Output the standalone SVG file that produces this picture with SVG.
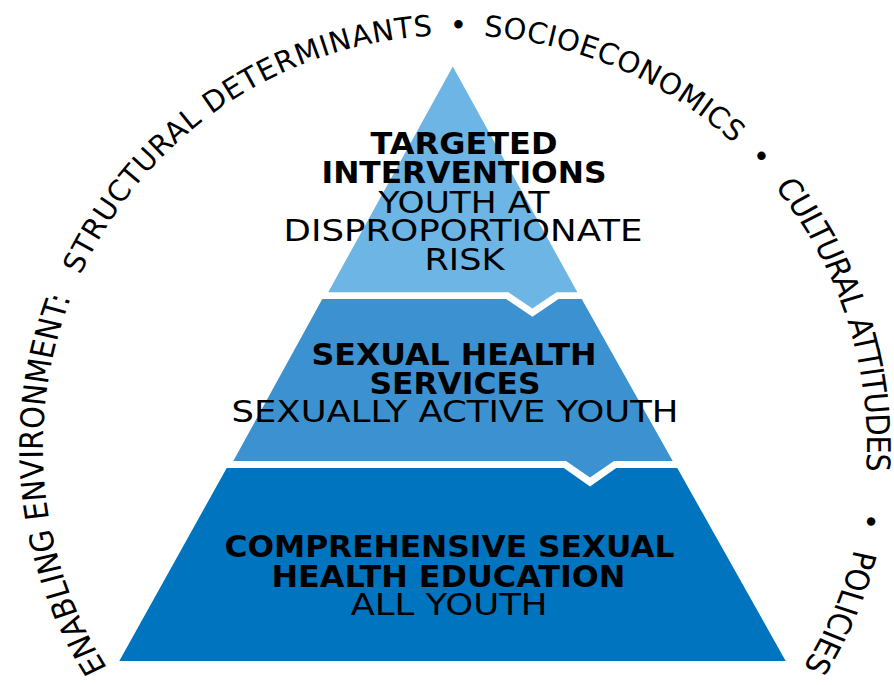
<svg xmlns="http://www.w3.org/2000/svg" width="894" height="685" viewBox="0 0 894 685">
<style>
.b{font-family:"DejaVu Sans",sans-serif;font-weight:bold;font-size:30px;fill:#000}
.r{font-family:"DejaVu Sans",sans-serif;font-size:30px;fill:#000}
.ring text{font-family:"DejaVu Sans",sans-serif;font-size:29px;fill:#000;text-anchor:middle}
.ring text.s{text-anchor:start}
.t1{fill:#6cb5e4}
.t2{fill:#3c92d0}
.t3{fill:#0074be}
</style>
<defs>
<path id="ring" d="M455,859 A412,412 0 1 1 455,35 A412,412 0 1 1 455,859" fill="none"/>
<path id="arcL" d="M-310.3,221.4 A367.9,412 0 0 1 -291.9,-250.8" fill="none"/>
<path id="arcR" d="M285.1,-260.4 A367.9,412 0 0 1 343.9,146.3" fill="none"/>
<path id="arcP" d="M356.3,102.5 A367.9,412 0 0 1 214.2,335.0" fill="none"/>
</defs>
<rect width="894" height="685" fill="#fff"/>
<g id="tier-targeted">
<polygon class="t1" points="452.8,66.5 577.4,292.3 556.5,292.3 532.4,308.6 508.3,292.3 328.2,292.3"/>
<text class="b" x="370.5" y="153.5" textLength="187" lengthAdjust="spacingAndGlyphs">TARGETED</text>
<text class="b" x="321.5" y="183" textLength="285" lengthAdjust="spacingAndGlyphs">INTERVENTIONS</text>
<text class="r" x="378.5" y="212.5" textLength="171" lengthAdjust="spacingAndGlyphs">YOUTH AT</text>
<text class="r" x="283.5" y="241" textLength="359" lengthAdjust="spacingAndGlyphs">DISPROPORTIONATE</text>
<text class="r" x="424.5" y="269.5" textLength="80" lengthAdjust="spacingAndGlyphs">RISK</text>
</g>
<g id="tier-services">
<polygon class="t2" points="322.3,299.1 506.2,299.1 532.4,316.8 558.6,299.1 581.7,299.1 672.7,461 614,461 590,477.5 566,461 233.3,461"/>
<text class="b" x="311.5" y="365" textLength="285" lengthAdjust="spacingAndGlyphs">SEXUAL HEALTH</text>
<text class="b" x="369.5" y="393.5" textLength="171" lengthAdjust="spacingAndGlyphs">SERVICES</text>
<text class="r" x="231.5" y="422" textLength="447" lengthAdjust="spacingAndGlyphs">SEXUALLY ACTIVE YOUTH</text>
</g>
<g id="tier-education">
<polygon class="t3" points="226.7,468 563.8,468 590,486.5 616.2,468 677.3,468 785.7,661 119.3,661"/>
<text class="b" x="224.5" y="557" textLength="450" lengthAdjust="spacingAndGlyphs">COMPREHENSIVE SEXUAL</text>
<text class="b" x="271.5" y="586.5" textLength="354" lengthAdjust="spacingAndGlyphs">HEALTH EDUCATION</text>
<text class="r" x="350.5" y="615" textLength="197" lengthAdjust="spacingAndGlyphs">ALL YOUTH</text>
</g>
<g id="enabling-environment" class="ring">
<g transform="translate(455,447) scale(1.12,1)">
<text class="s" letter-spacing="0.17"><textPath href="#arcL">ENABLING ENVIRONMENT:</textPath></text>
<text class="s" letter-spacing="-0.8"><textPath href="#arcR">CULTURAL ATTITUDES</textPath></text>
<text class="s" letter-spacing="-0.5"><textPath href="#arcP">POLICIES</textPath></text>
</g>
<text letter-spacing="0.76"><textPath href="#ring" startOffset="1048.1">STRUCTURAL DETERMINANTS</textPath></text>
<text><textPath href="#ring" startOffset="1297.2">•</textPath></text>
<text letter-spacing="0.5"><textPath href="#ring" startOffset="1461.5">SOCIOECONOMICS</textPath></text>
<text><textPath href="#ring" startOffset="1628">•</textPath></text>
<text><textPath href="#ring" startOffset="2013.9">•</textPath></text>
</g>
</svg>
